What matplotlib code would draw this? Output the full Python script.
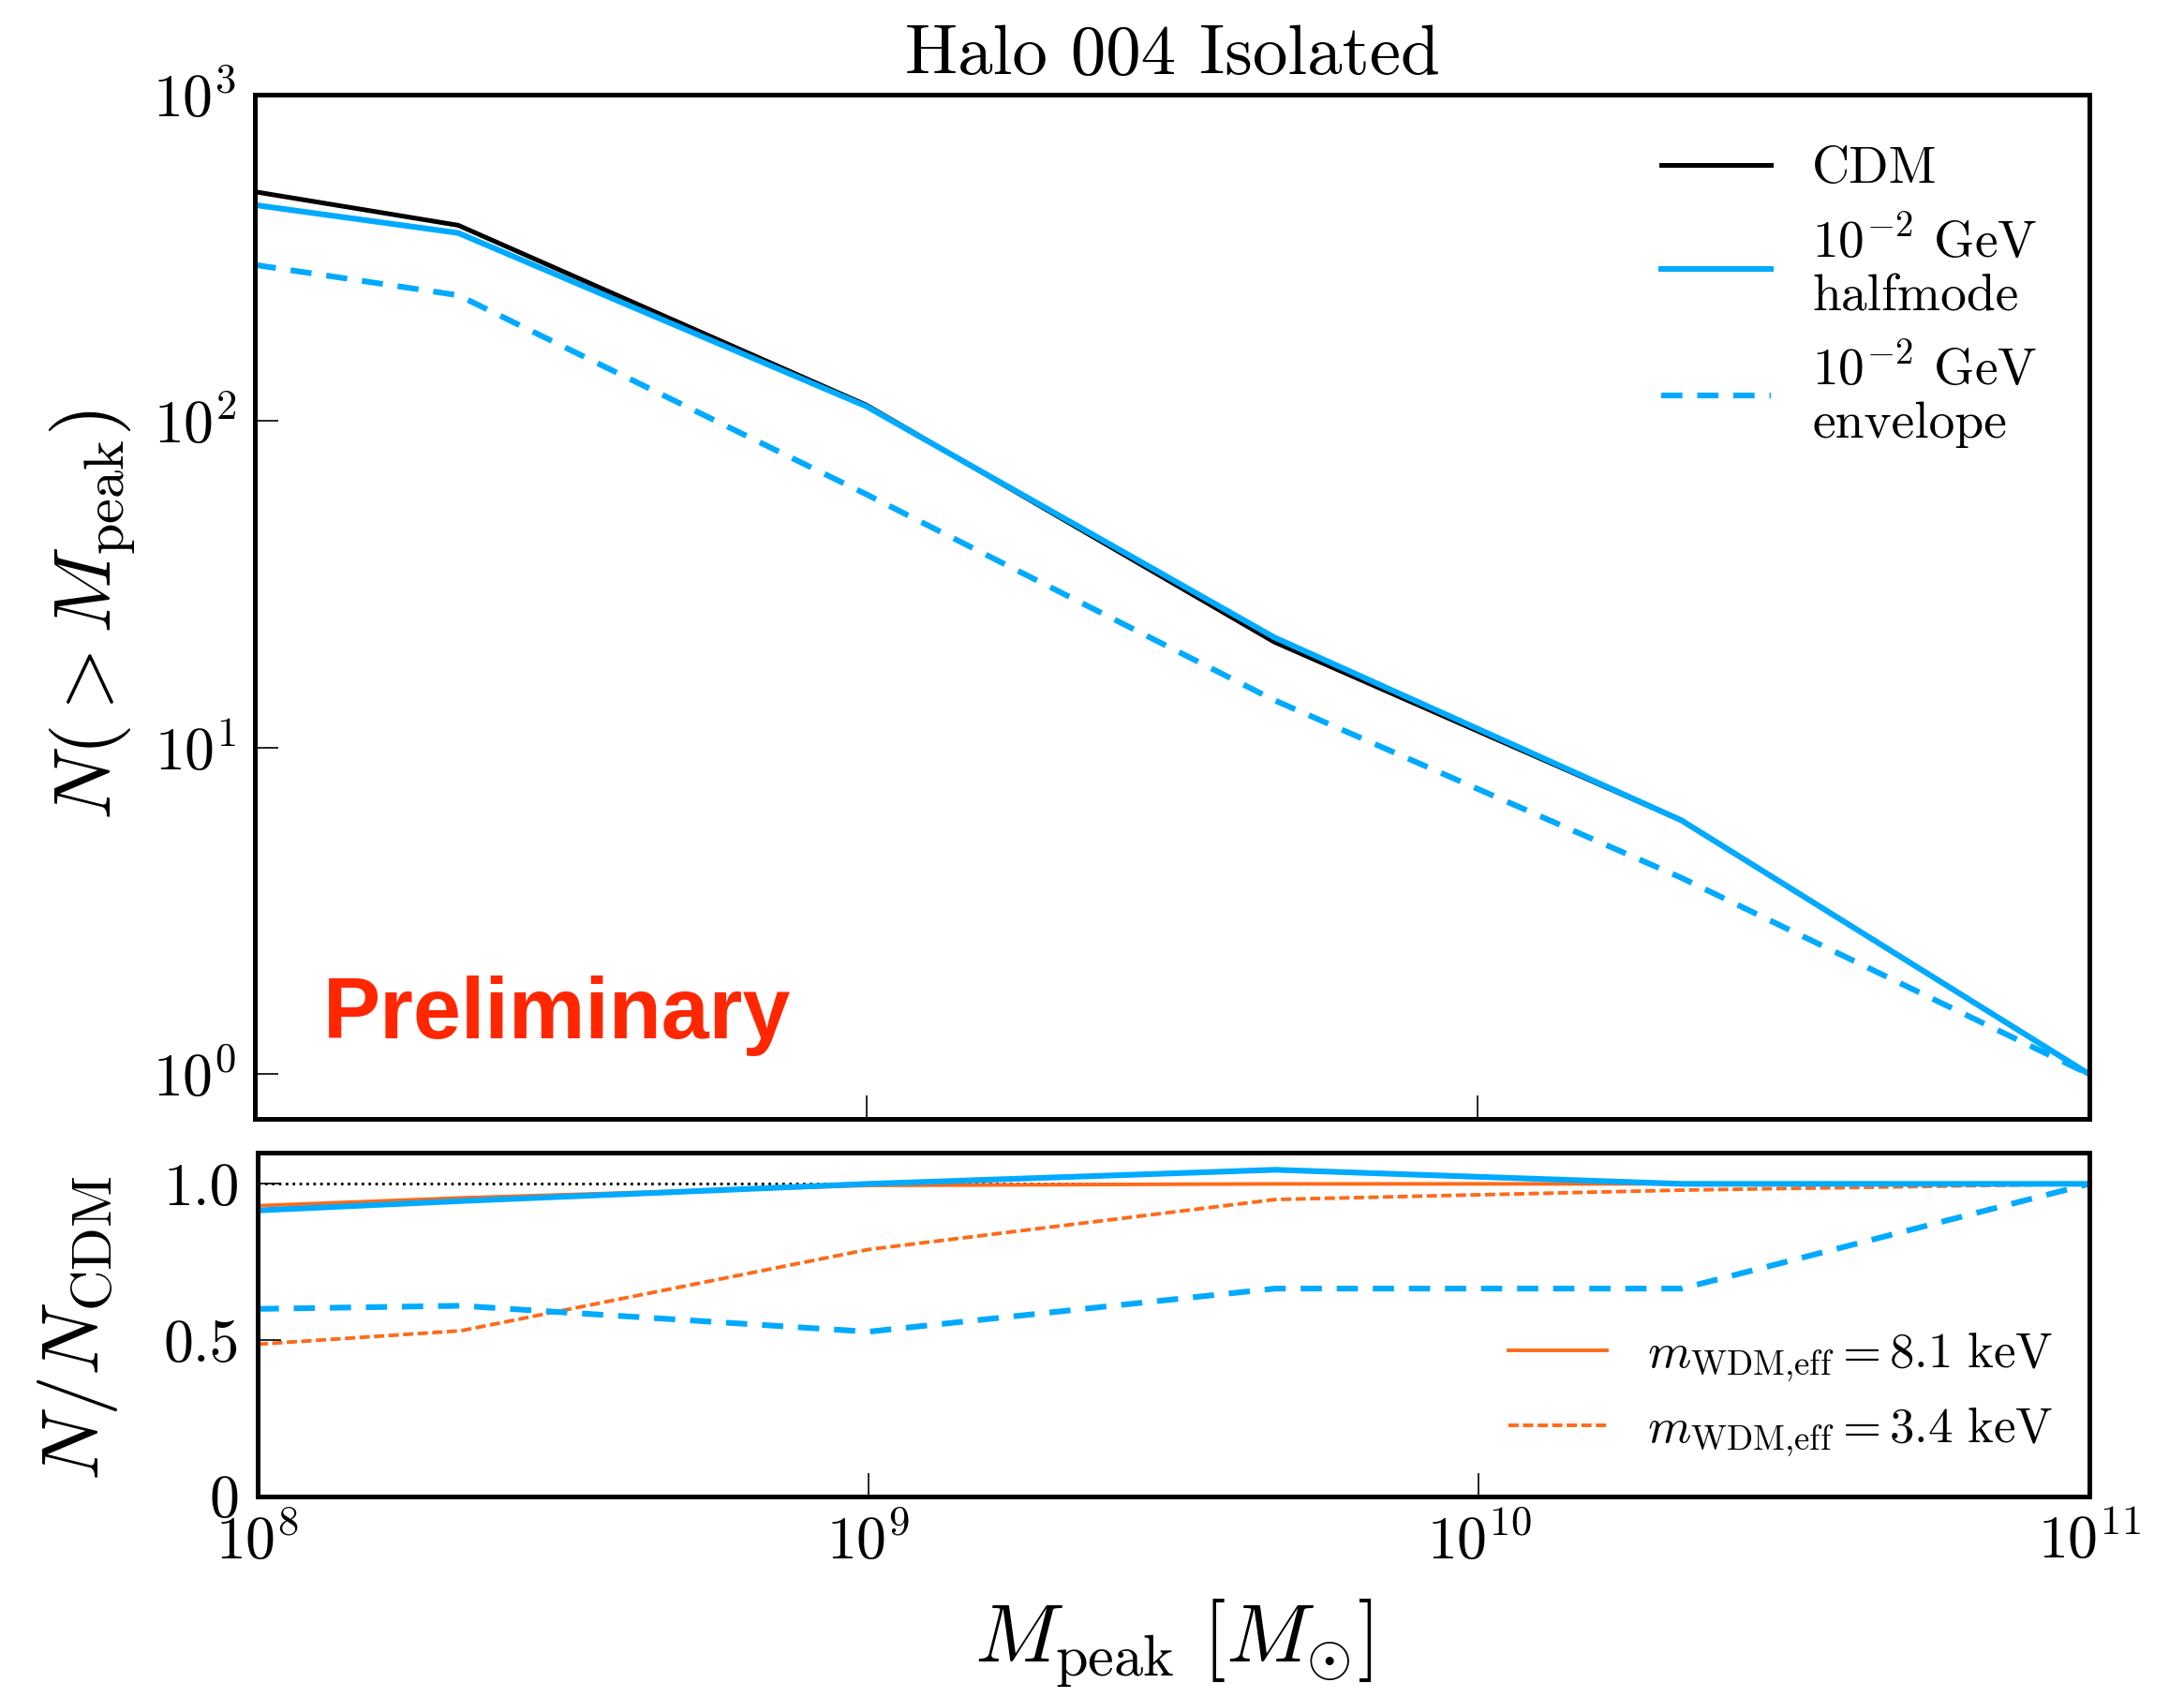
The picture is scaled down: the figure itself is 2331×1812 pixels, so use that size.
import numpy as np
import matplotlib
matplotlib.use('Agg')
import matplotlib.pyplot as plt
from matplotlib.ticker import NullLocator

plt.rcParams['font.family'] = 'serif'
plt.rcParams['font.serif'] = ['cmr10']
plt.rcParams['mathtext.fontset'] = 'cm'
plt.rcParams['axes.formatter.use_mathtext'] = True

# Massa de pico dos subhalos (M_sun)
m_peak = [1e8, 2.15e8, 1e9, 4.64e9, 2.15e10, 1e11]

# Funcao de massa cumulativa N(>M_peak)
n_cdm = [504, 398, 112, 21.1, 6.0, 1.0]
n_halfmode = [459, 377, 111, 21.8, 6.0, 1.0]
n_envelope = [301, 243, 59.7, 14.0, 4.0, 1.0]

# Razao N/N_CDM
r_halfmode = [0.915, 0.945, 1.0, 1.045, 1.0, 1.0]
r_envelope = [0.60, 0.61, 0.527, 0.665, 0.665, 1.0]
r_wdm_81 = [0.93, 0.955, 0.995, 1.0, 1.0, 1.0]
r_wdm_34 = [0.487, 0.53, 0.79, 0.95, 0.98, 1.0]

x_ticks = [1e8, 1e9, 1e10, 1e11]
ratio_ticks = [0, 0.5, 1.0]
ratio_tick_labels = ['0', '0.5', '1.0']

blue = '#00aaff'
orange = '#ff6a1a'

fig = plt.figure(figsize=(11.655, 9.06), dpi=200)
ax1 = fig.add_axes([0.1167, 0.341, 0.84, 0.6033])
ax2 = fig.add_axes([0.118, 0.1187, 0.8387, 0.2025])

for ax in (ax1, ax2):
    for s in ax.spines.values():
        s.set_linewidth(1.8)
    ax.tick_params(which='both', direction='in', top=False, right=False,
                   length=9, width=0.6, labelsize=23, pad=7)

# Painel superior
ax1.plot(m_peak, n_cdm, color='black', lw=1.8, label='CDM')
ax1.plot(m_peak, n_halfmode, color=blue, lw=2.2, label='$10^{-2}$ GeV\nhalfmode')
ax1.plot(m_peak, n_envelope, color=blue, lw=2.2, ls=(0, (3.7, 2.6)),
         label='$10^{-2}$ GeV\nenvelope')
ax1.set_xscale('log')
ax1.set_yscale('log')
ax1.set_xlim(1e8, 1e11)
ax1.set_ylim(0.73, 1e3)
ax1.set_xticks(x_ticks)
ax1.xaxis.set_minor_locator(NullLocator())
ax1.yaxis.set_minor_locator(NullLocator())
ax1.tick_params(labelbottom=False)
ax1.set_ylabel(r'$N(>M_{\rm peak})$', fontsize=31)
ax1.yaxis.set_label_coords(-0.064, 0.492)
ax1.set_title('Halo 004 Isolated', fontsize=27, pad=8)
ax1.legend(loc='upper right', frameon=False, fontsize=20, handlelength=2.1,
           labelspacing=0.45, borderaxespad=0.6)
ax1.text(0.037, 0.079, 'Preliminary', transform=ax1.transAxes, color='#ff2600',
         fontsize=33, fontweight='bold', family='Liberation Sans',
         ha='left', va='baseline')

# Painel inferior
ax2.axhline(1.0, color='black', lw=1.0, ls=':')
l1, = ax2.plot(m_peak, r_wdm_81, color=orange, lw=1.4,
               label=r'$m_{\rm WDM{,}eff} = 8.1\ \rm keV$')
l2, = ax2.plot(m_peak, r_wdm_34, color=orange, lw=1.4, ls=(0, (2.8, 1.2)),
               label=r'$m_{\rm WDM{,}eff} = 3.4\ \rm keV$')
ax2.plot(m_peak, r_halfmode, color=blue, lw=2.2)
ax2.plot(m_peak, r_envelope, color=blue, lw=2.2, ls=(0, (3.7, 2.6)))
ax2.set_xscale('log')
ax2.set_xlim(1e8, 1e11)
ax2.set_ylim(0, 1.1)
ax2.set_xticks(x_ticks)
ax2.xaxis.set_minor_locator(NullLocator())
ax2.set_yticks(ratio_ticks)
ax2.set_yticklabels(ratio_tick_labels)
ax2.set_ylabel(r'$N/N_{\rm CDM}$', fontsize=31)
ax2.yaxis.set_label_coords(-0.075, 0.49)
ax2.set_xlabel(r'$M_{\rm peak}\ [M_{\odot}]$', fontsize=32, labelpad=10)
ax2.legend(handles=[l1, l2], loc='lower right', frameon=False, fontsize=19,
           handlelength=2.0, labelspacing=0.45, borderaxespad=0.35)

fig.savefig('out.png', dpi=200)
